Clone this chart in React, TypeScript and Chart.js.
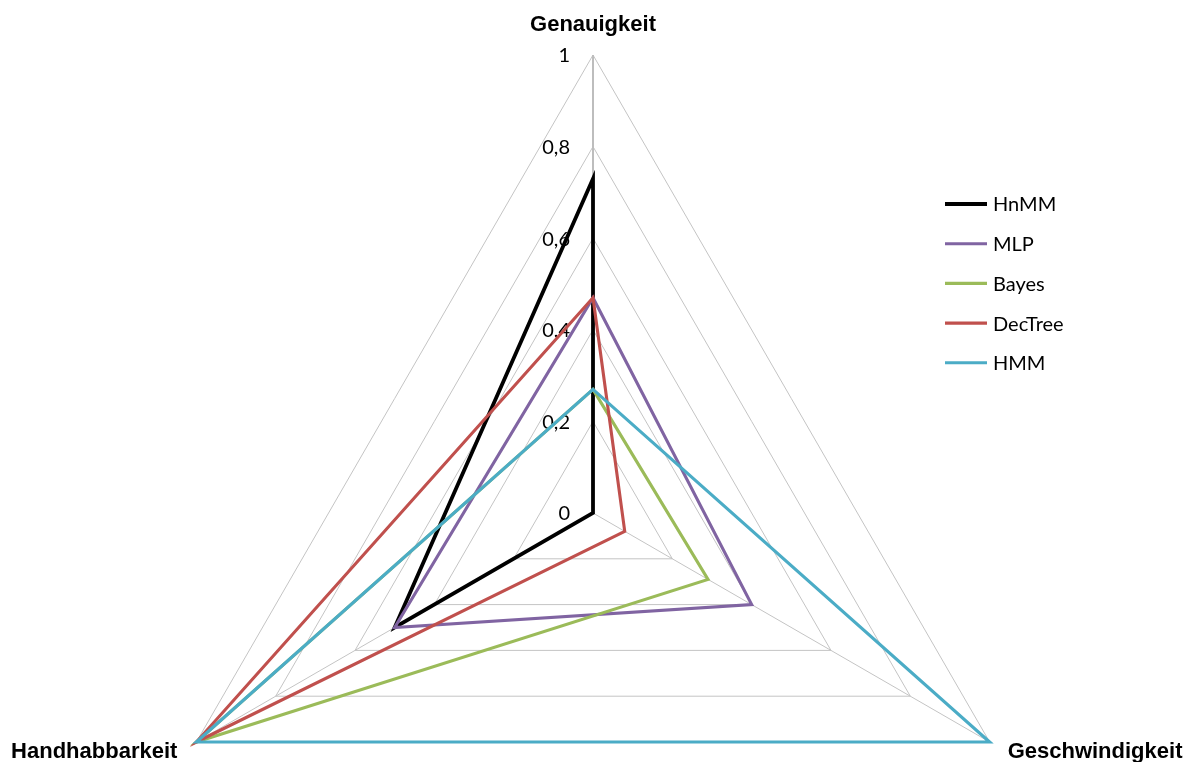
import { useEffect, useRef } from 'react';
import { Chart, registerables } from 'chart.js';

Chart.register(...registerables);

// Radar axes (clockwise from the top)
const axisLabels = ['Genauigkeit', 'Geschwindigkeit', 'Handhabbarkeit'];

// Series values per axis: [Genauigkeit, Geschwindigkeit, Handhabbarkeit]
const seriesNames = ['HnMM', 'MLP', 'Bayes', 'DecTree', 'HMM'];
const hnmmValues = [0.73, 0, 0.5];
const mlpValues = [0.47, 0.4, 0.5];
const bayesValues = [0.27, 0.29, 1];
const decTreeValues = [0.47, 0.08, 1];
const hmmValues = [0.27, 1, 1];

// Value-axis ticks and their German-formatted labels
const tickValues = [0, 0.2, 0.4, 0.6, 0.8, 1];
const tickLabels = ['0', '0,2', '0,4', '0,6', '0,8', '1'];

const seriesColors = ['#000000', '#8064A2', '#9BBB59', '#C0504D', '#4BACC6'];
const seriesWidths = [3.8, 3.1, 3.1, 3.1, 3.1];

const TEXT_FONT = '20px Lato, "Open Sans", sans-serif';
const LABEL_FONT = 'bold 22px "Liberation Sans", Arial, sans-serif';

// Geometry of the radar within the canvas
const CENTER_X = 593;
const CENTER_Y = 513;
const RADIUS = 458;

const radarDecorations = {
  id: 'radarDecorations',
  beforeDatasetsDraw(chart: any) {
    const scale = chart.scales.r;
    const ctx = chart.ctx;
    ctx.save();
    ctx.font = TEXT_FONT;
    ctx.fillStyle = '#000000';
    ctx.textAlign = 'right';
    ctx.textBaseline = 'middle';
    tickValues.forEach((v, i) => {
      const d = scale.getDistanceFromCenterForValue(v);
      ctx.fillText(tickLabels[i], scale.xCenter - 23, scale.yCenter - d + 1);
    });
    ctx.restore();
  },
  afterDraw(chart: any) {
    const scale = chart.scales.r;
    const ctx = chart.ctx;
    ctx.save();

    // Axis titles
    ctx.font = LABEL_FONT;
    ctx.fillStyle = '#000000';
    ctx.textBaseline = 'alphabetic';
    axisLabels.forEach((label, i) => {
      const p = scale.getPointPosition(i, scale.drawingArea);
      if (i === 0) {
        ctx.textAlign = 'center';
        ctx.fillText(label, p.x, p.y - 24);
      } else if (i === 1) {
        ctx.textAlign = 'left';
        ctx.fillText(label, p.x + 18, p.y + 16);
      } else {
        ctx.textAlign = 'right';
        ctx.fillText(label, p.x - 19, p.y + 16);
      }
    });

    // Legend
    ctx.font = TEXT_FONT;
    ctx.textAlign = 'left';
    ctx.textBaseline = 'middle';
    chart.data.datasets.forEach((ds: any, i: number) => {
      const y = 204 + i * 39.7;
      ctx.strokeStyle = ds.borderColor;
      ctx.lineWidth = ds.borderWidth;
      ctx.lineCap = 'butt';
      ctx.beginPath();
      ctx.moveTo(945, y);
      ctx.lineTo(987, y);
      ctx.stroke();
      ctx.fillStyle = '#000000';
      ctx.fillText(ds.label, 993, y + 1);
    });
    ctx.restore();
  },
};

export default function App() {
  const canvasRef = useRef<HTMLCanvasElement | null>(null);

  useEffect(() => {
    if (!canvasRef.current) return;
    const valueSets = [hnmmValues, mlpValues, bayesValues, decTreeValues, hmmValues];
    const chart = new Chart(canvasRef.current, {
      type: 'radar',
      data: {
        labels: axisLabels,
        datasets: seriesNames.map((name, i) => ({
          label: name,
          data: valueSets[i],
          borderColor: seriesColors[i],
          backgroundColor: 'transparent',
          borderWidth: seriesWidths[i],
          borderJoinStyle: 'miter' as const,
          pointRadius: 0,
          pointHoverRadius: 0,
          fill: false,
          tension: 0,
          order: seriesNames.length - 1 - i,
        })),
      },
      options: {
        responsive: false,
        animation: false,
        layout: { padding: 0 },
        plugins: {
          legend: { display: false },
          tooltip: { enabled: false },
        },
        elements: { line: { borderJoinStyle: 'miter', borderMiterLimit: 4 } as any },
        scales: {
          r: {
            min: 0,
            max: 1,
            ticks: { stepSize: 0.2, display: false },
            pointLabels: { display: false },
            grid: { color: '#c4c4c4', lineWidth: 1 },
            angleLines: {
              color: (c: any) => (c.index === 0 ? '#bdbdbd' : '#c4c4c4'),
              lineWidth: (c: any) => (c.index === 0 ? 2 : 1),
            },
            afterFit: (scale: any) => {
              scale.xCenter = CENTER_X;
              scale.yCenter = CENTER_Y;
              scale.drawingArea = RADIUS;
            },
          },
        },
      },
      plugins: [radarDecorations],
    });
    return () => chart.destroy();
  }, []);

  return (
    <canvas
      ref={canvasRef}
      width={1186}
      height={762}
      style={{ position: 'absolute', left: 0, top: 0, display: 'block' }}
    />
  );
}
